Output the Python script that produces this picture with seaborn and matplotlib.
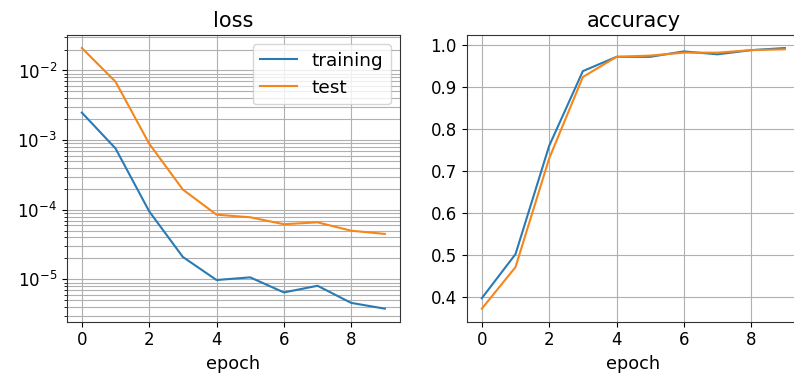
import numpy as np
import pandas as pd
import matplotlib
matplotlib.use("Agg")
import matplotlib.pyplot as plt
import seaborn as sns

epochs = list(range(10))
train_loss = [2.48e-3, 7.6e-4, 9.5e-5, 2.1e-5, 9.8e-6, 1.07e-5, 6.5e-6, 8.1e-6, 4.6e-6, 3.8e-6]
test_loss = [2.1e-2, 6.9e-3, 8.9e-4, 1.95e-4, 8.5e-5, 7.8e-5, 6.2e-5, 6.6e-5, 5.0e-5, 4.5e-5]
train_acc = [0.397, 0.502, 0.760, 0.938, 0.972, 0.972, 0.985, 0.978, 0.988, 0.993]
test_acc = [0.372, 0.471, 0.730, 0.924, 0.972, 0.975, 0.982, 0.982, 0.988, 0.990]
splits = ["training", "test"]

df = pd.DataFrame({
    "epoch": epochs * 2,
    "loss": train_loss + test_loss,
    "accuracy": train_acc + test_acc,
    "split": [splits[0]] * len(epochs) + [splits[1]] * len(epochs),
})

plt.rcParams["font.family"] = ["DejaVu Sans"]
fig = plt.figure(figsize=(7.94, 3.73), dpi=100)
ax1 = fig.add_axes([66.7 / 794, 1 - 321.7 / 373, 333.3 / 794, 286.7 / 373])
ax2 = fig.add_axes([466.7 / 794, 1 - 321.7 / 373, 333.3 / 794, 286.7 / 373])

palette = {"training": "#2a7ab4", "test": "#f5861a"}

sns.lineplot(data=df, x="epoch", y="loss", hue="split", palette=palette,
             ax=ax1, linewidth=1.5)
ax1.set_yscale("log")
ax1.grid(True, which="both", color="#b0b0b0", linewidth=0.8)
ax1.set_axisbelow(True)
ax1.set_title("loss", fontsize=15)
ax1.set_xlabel("epoch", fontsize=12.7)
ax1.set_ylabel("")
handles, labels = ax1.get_legend_handles_labels()
ax1.legend(handles, labels, loc="upper right", fontsize=13.3, title=None)

sns.lineplot(data=df, x="epoch", y="accuracy", hue="split", palette=palette,
             ax=ax2, linewidth=1.5, legend=False)
ax2.grid(True, which="major", color="#b0b0b0", linewidth=0.8)
ax2.set_axisbelow(True)
ax2.set_title("accuracy", fontsize=15)
ax2.set_xlabel("epoch", fontsize=12.7)
ax2.set_ylabel("")

for ax in (ax1, ax2):
    ax.set_xticks([0, 2, 4, 6, 8])
    ax.tick_params(labelsize=12)
    for s in ax.spines.values():
        s.set_color("#333333")

fig.savefig("out.png", dpi=100)
